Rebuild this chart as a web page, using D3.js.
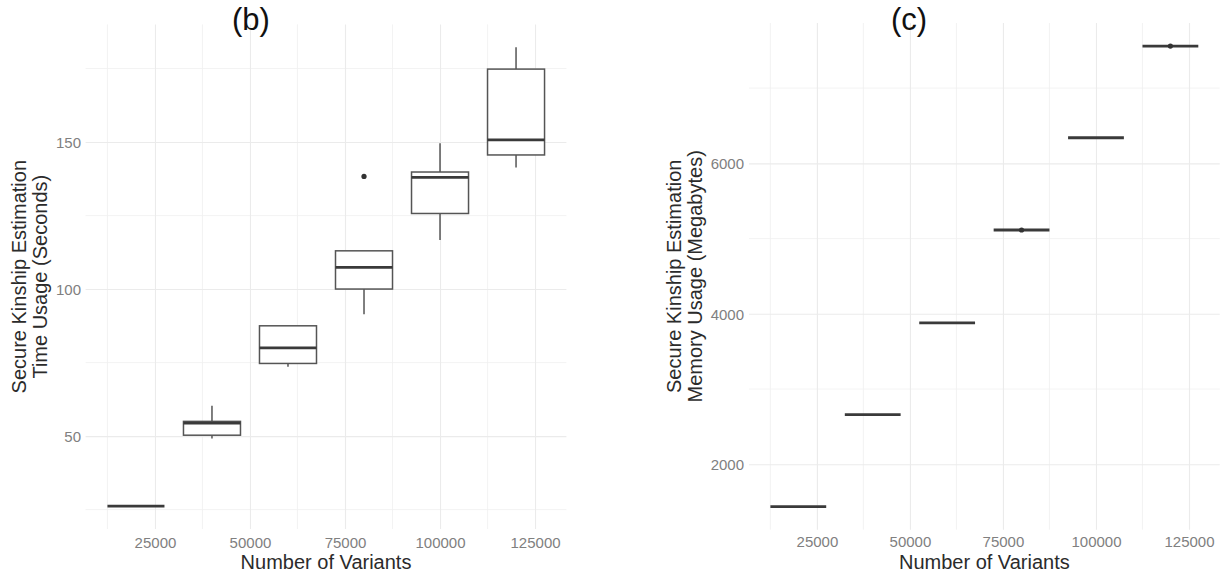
<!DOCTYPE html>
<html>
<head>
<meta charset="utf-8">
<script src="https://cdn.jsdelivr.net/npm/d3@7"></script>
<style>
  html, body { margin: 0; padding: 0; background: #fff; }
  svg { display: block; font-family: "Liberation Sans", Arial, sans-serif; }
</style>
</head>
<body>
<svg id="chart" width="1222" height="574"></svg>
<script>
// Number of variants per run (shared x positions of both panels)
const variants = [20000, 40000, 60000, 80000, 100000, 120000];
const xTicks = [25000, 50000, 75000, 100000, 125000];

// (b) Time usage in seconds: boxplot statistics per variant count
const timeLowerWhisker = [26.2, 49.2, 73.6, 91.4, 116.7, 141.3];
const timeQ1           = [26.2, 50.3, 74.7, 100.0, 125.7, 145.6];
const timeMedian       = [26.2, 54.4, 80.0, 107.4, 138.0, 150.7];
const timeQ3           = [26.2, 55.0, 87.5, 113.0, 139.8, 174.8];
const timeUpperWhisker = [26.2, 60.3, 87.5, 113.0, 149.6, 182.2];
const timeOutliers     = [[], [], [], [138.3], [], []];
const timeTicks = [50, 100, 150];

// (c) Memory usage in megabytes: boxplot statistics per variant count
const memLowerWhisker = [1437, 2659, 3880, 5114, 6340, 7559];
const memQ1           = [1437, 2659, 3880, 5114, 6340, 7559];
const memMedian       = [1437, 2659, 3880, 5114, 6340, 7559];
const memQ3           = [1437, 2659, 3880, 5114, 6340, 7559];
const memUpperWhisker = [1437, 2659, 3880, 5114, 6340, 7559];
const memOutliers     = [[], [], [], [5114], [], [7559]];
const memTicks = [2000, 4000, 6000];

const boxWidth = 15000;          // in variant units
const svg = d3.select("#chart");

function buildBoxes(lo, q1, med, q3, hi, out) {
  return variants.map((v, i) => ({
    x: v, lo: lo[i], q1: q1[i], med: med[i], q3: q3[i], hi: hi[i], out: out[i]
  }));
}

function drawPanel(opt) {
  const boxes = opt.boxes;
  const allVals = boxes.flatMap(b => [b.lo, b.hi, ...b.out]);
  const yMin = d3.min(allVals), yMax = d3.max(allVals);
  const yPad = (yMax - yMin) * 0.05;
  const xMin = d3.min(variants) - boxWidth / 2, xMax = d3.max(variants) + boxWidth / 2;
  const xPad = (xMax - xMin) * 0.05;

  const x = d3.scaleLinear().domain([xMin - xPad, xMax + xPad]).range(opt.xRange);
  const y = d3.scaleLinear().domain([yMin - yPad, yMax + yPad]).range(opt.yRange);

  const g = svg.append("g");
  const [x0, x1] = x.range();
  const [y0, y1] = y.range();

  // minor grid (midpoints between major ticks)
  const xMinor = [12500, 37500, 62500, 87500, 112500];
  const step = opt.yTicks[1] - opt.yTicks[0];
  const yMinor = d3.range(opt.yTicks[0] - step / 2, y.domain()[1], step)
    .filter(v => v > y.domain()[0]);

  g.append("g").selectAll("line").data(xMinor).join("line")
    .attr("x1", d => x(d)).attr("x2", d => x(d)).attr("y1", y0).attr("y2", y1)
    .attr("stroke", "#f0f0f0").attr("stroke-width", 0.8);
  g.append("g").selectAll("line").data(yMinor).join("line")
    .attr("y1", d => y(d)).attr("y2", d => y(d)).attr("x1", x0).attr("x2", x1)
    .attr("stroke", "#f0f0f0").attr("stroke-width", 0.8);

  // major grid via axes with full-length ticks
  const xAxis = d3.axisBottom(x).tickValues(xTicks).tickSize(-(y0 - y1)).tickFormat(d3.format("d"));
  const yAxis = d3.axisLeft(y).tickValues(opt.yTicks).tickSize(-(x1 - x0)).tickFormat(d3.format("d"));

  const gx = g.append("g").attr("transform", `translate(0,${y0})`).call(xAxis);
  gx.select(".domain").remove();
  gx.selectAll(".tick line").attr("stroke", "#ebebeb").attr("stroke-width", 1.1);
  gx.selectAll(".tick text").attr("fill", "#808080").attr("font-size", 15)
    .attr("dy", 0).attr("y", opt.xLabelY - y0).attr("font-family", "Liberation Sans, Arial, sans-serif");

  const gy = g.append("g").attr("transform", `translate(${x0},0)`).call(yAxis);
  gy.select(".domain").remove();
  gy.selectAll(".tick line").attr("stroke", "#ebebeb").attr("stroke-width", 1.1);
  gy.selectAll(".tick text").attr("fill", "#808080").attr("font-size", 15)
    .attr("x", opt.yLabelX - x0).attr("dy", "0.35em").attr("font-family", "Liberation Sans, Arial, sans-serif");

  // boxplots
  const bw = x(boxWidth) - x(0);
  const bg = g.append("g").selectAll("g").data(boxes).join("g");
  // whiskers
  bg.append("line")
    .attr("x1", d => x(d.x)).attr("x2", d => x(d.x))
    .attr("y1", d => y(d.q3)).attr("y2", d => y(d.hi))
    .attr("stroke", "#555").attr("stroke-width", 1.5);
  bg.append("line")
    .attr("x1", d => x(d.x)).attr("x2", d => x(d.x))
    .attr("y1", d => y(d.q1)).attr("y2", d => y(d.lo))
    .attr("stroke", "#555").attr("stroke-width", 1.5);
  // box body
  bg.append("rect")
    .attr("x", d => x(d.x) - bw / 2).attr("width", bw)
    .attr("y", d => y(d.q3)).attr("height", d => Math.max(0, y(d.q1) - y(d.q3)))
    .attr("fill", "#fff").attr("stroke", "#555").attr("stroke-width", 1.5);
  // median
  bg.append("line")
    .attr("x1", d => x(d.x) - bw / 2).attr("x2", d => x(d.x) + bw / 2)
    .attr("y1", d => y(d.med)).attr("y2", d => y(d.med))
    .attr("stroke", "#3a3a3a").attr("stroke-width", 2.8);
  // outliers
  bg.selectAll("circle").data(d => d.out.map(v => ({ x: d.x, v }))).join("circle")
    .attr("cx", d => x(d.x)).attr("cy", d => y(d.v)).attr("r", 2.6)
    .attr("fill", "#333");

  // axis titles
  svg.append("text")
    .attr("x", (x0 + x1) / 2).attr("y", 569)
    .attr("text-anchor", "middle").attr("font-size", 20).attr("fill", "#2b2b2b")
    .text("Number of Variants");

  const cy = (y0 + y1) / 2;
  opt.yTitle.forEach((line, i) => {
    svg.append("text")
      .attr("transform", `translate(${opt.yTitleX[i]},${cy}) rotate(-90)`)
      .attr("text-anchor", "middle").attr("font-size", 20).attr("fill", "#2b2b2b")
      .text(line);
  });

  // panel title
  svg.append("text")
    .attr("x", opt.titleX).attr("y", 30)
    .attr("text-anchor", "middle").attr("font-size", 31).attr("fill", "#111")
    .text(opt.title);
}

drawPanel({
  boxes: buildBoxes(timeLowerWhisker, timeQ1, timeMedian, timeQ3, timeUpperWhisker, timeOutliers),
  yTicks: timeTicks,
  xRange: [85.6, 566.4],
  yRange: [529, 24.4],
  xLabelY: 548,
  yLabelX: 81,
  yTitle: ["Secure Kinship Estimation", "Time Usage (Seconds)"],
  yTitleX: [26, 47],
  title: "(b)",
  titleX: 251
});

drawPanel({
  boxes: buildBoxes(memLowerWhisker, memQ1, memMedian, memQ3, memUpperWhisker, memOutliers),
  yTicks: memTicks,
  xRange: [749, 1219.7],
  yRange: [529.7, 23],
  xLabelY: 547,
  yLabelX: 744,
  yTitle: ["Secure Kinship Estimation", "Memory Usage (Megabytes)"],
  yTitleX: [681, 702],
  title: "(c)",
  titleX: 909
});
</script>
</body>
</html>
